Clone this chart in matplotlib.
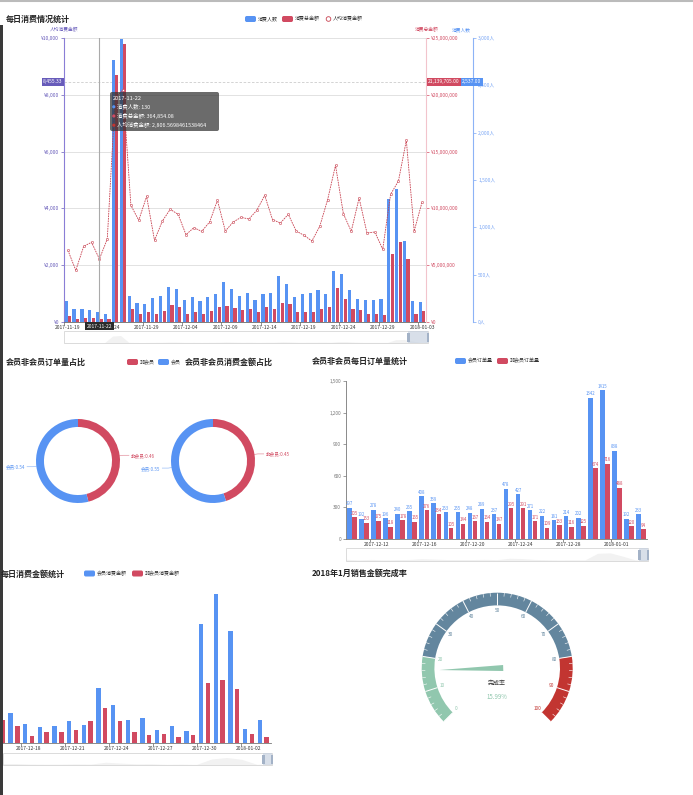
import numpy as np
import pandas as pd
import matplotlib
matplotlib.use("Agg")
import matplotlib.pyplot as plt
from matplotlib.patches import Rectangle, FancyBboxPatch, Wedge, Polygon, Circle
from matplotlib.ticker import FuncFormatter
from matplotlib.transforms import blended_transform_factory

# ---------------- data ----------------
# 每日消费情况统计 (2017-11-19 .. 2018-01-03)
DATES1 = pd.date_range("2017-11-19", periods=46).strftime("%Y-%m-%d").tolist()
PEOPLE = [222, 134, 134, 130, 106, 81, 2764, 2990, 271, 201, 187, 254, 271, 370, 349, 232,
          264, 222, 264, 296, 419, 349, 275, 310, 229, 299, 310, 482, 405, 261, 292, 310,
          342, 299, 539, 511, 342, 246, 236, 236, 246, 1303, 1405, 856, 225, 215]
TOTAL = [528000, 264000, 352000, 364854, 264000, 264000, 21770000, 24440000, 1144000, 704000,
         880000, 733000, 968000, 1470000, 1320000, 704000, 880000, 704000, 968000, 1320000,
         1380000, 1230000, 1030000, 1115000, 910000, 1350000, 1115000, 1700000, 1555000, 850000,
         850000, 850000, 1115000, 1290000, 2990000, 2000000, 1115000, 1030000, 730000, 730000,
         616000, 5960000, 7040000, 5520000, 730000, 940000]
AVG = [2523, 1819, 2664, 2807, 2218, 2923, 7876, 8174, 4108, 3580, 4425, 2876, 3556, 3967, 3791,
       3075, 3322, 3192, 3521, 4284, 3204, 3521, 3685, 3627, 3932, 4460, 3603, 3486, 3791, 3204,
       3052, 2852, 3369, 4307, 5516, 3815, 3192, 4366, 3134, 3169, 2559, 4495, 4965, 6397, 3204,
       4225]

# tooltip / axis pointer shown in the screenshot
POINTER_IDX = 4
TIP_DATE = "2017-11-22"
TIP_PEOPLE = 130
TIP_TOTAL = 364854.08
TIP_AVG = 2806.5698461538464
PTR_AVG = 8455.33
PTR_AVG_LABEL = "8,455.33"
PTR_TOTAL_LABEL = "21,139,705.00"
PTR_PEOPLE_LABEL = "2,537.00"

# 会员非会员占比
SHARE_LABELS = ["非会员", "会员"]
ORDER_SHARE = [0.46, 0.54]
AMOUNT_SHARE = [0.45, 0.55]

# 会员非会员每日订单量 / 消费金额 (2017-12-10 .. 2018-01-03)
DATES2 = pd.date_range("2017-12-10", periods=25).strftime("%Y-%m-%d").tolist()
MEMBER_ORDERS = [297, 192, 278, 196, 240, 265, 408, 339, 253, 255, 248, 289, 237, 478, 427,
                 271, 222, 181, 214, 202, 1342, 1415, 838, 192, 233]
NONMEMBER_ORDERS = [205, 153, 175, 118, 178, 165, 276, 234, 105, 144, 167, 164, 147, 295, 291,
                    171, 109, 133, 116, 125, 674, 716, 488, 120, 94]
MEMBER_AMOUNT = [740000, 620000, 670000, 545000, 810000, 670000, 956000, 988000, 610000, 522000,
                 555000, 721000, 588000, 1830000, 1254000, 755000, 810000, 422000, 555000, 377000,
                 3963000, 4950000, 3730000, 455000, 755000]
NONMEMBER_AMOUNT = [490000, 410000, 445000, 365000, 540000, 445000, 744000, 566000, 233000, 355000,
                    344000, 422000, 710000, 1165000, 721000, 355000, 266000, 300000, 200000, 266000,
                    1987000, 2087000, 1787000, 289000, 189000]

# 2018年1月销售金额完成率
GAUGE_VALUE = 15.99
GAUGE_BANDS = [(0.2, "#91c7ae"), (0.8, "#63869e"), (1.0, "#c23531")]

BLUE = "#5793f3"
RED = "#d14a61"
LINE_RED = "#c8404f"
PURPLE = "#675bba"

plt.rcParams['font.family'] = ['Noto Sans CJK SC', 'DejaVu Sans']
plt.rcParams['axes.unicode_minus'] = False

W, H = 693, 795
fig = plt.figure(figsize=(W / 100, H / 100), dpi=100, facecolor="white")


def px_axes(left, top, width, height):
    return fig.add_axes([left / W, 1 - (top + height) / H, width / W, height / H])


def date_axis(ax, labels, start, step):
    idx = np.arange(start, len(labels), step)
    ax.set_xticks(idx)
    ax.set_xticklabels([labels[i] for i in idx])
    ax.set_xticks(idx - 0.5, minor=True)
    ax.tick_params(axis="x", which="major", length=0, labelsize=3.5, labelcolor="#333", pad=2.5)
    ax.tick_params(axis="x", which="minor", length=2, width=0.5, color="#666")


# ---------------- chart 1: 每日消费情况统计 ----------------
n1 = len(DATES1)
x1 = np.arange(n1)
ax_avg = px_axes(64, 38, 362, 284)
ax_avg.set_xlim(-0.5, n1 - 0.5)
ax_avg.set_ylim(0, 10000)
ax_avg.set_yticks(np.arange(0, 10001, 2000))
ax_avg.yaxis.set_major_formatter(FuncFormatter(lambda v, p: f"¥{v:,.0f}"))
ax_avg.tick_params(axis="y", colors=PURPLE, labelsize=3.6, length=2, width=0.5, pad=1.5)
ax_avg.grid(axis="y", color="#dddddd", lw=0.6)
ax_avg.axhline(PTR_AVG, color="#cccccc", lw=0.6, ls=(0, (3, 2)))
for s in ["top", "right"]:
    ax_avg.spines[s].set_visible(False)
ax_avg.spines["left"].set_color("#8a7ed6")
ax_avg.spines["left"].set_linewidth(0.8)
ax_avg.spines["bottom"].set_color("#666")
ax_avg.spines["bottom"].set_linewidth(0.6)
date_axis(ax_avg, DATES1, 0, 5)

ax_blue = ax_avg.twinx()
ax_blue.set_ylim(0, 3000)
ax_blue.bar(x1 - 0.22, PEOPLE, width=0.4, color=BLUE)
ax_blue.set_yticks(np.arange(0, 3001, 500))
ax_blue.yaxis.set_major_formatter(FuncFormatter(lambda v, p: f"{v:,.0f}人"))
ax_blue.tick_params(axis="y", colors="#7aa6f5", labelsize=3.5, length=2, width=0.5, pad=1.5)
for s in ["top", "left", "bottom"]:
    ax_blue.spines[s].set_visible(False)
ax_blue.spines["right"].set_position(("outward", 34))
ax_blue.spines["right"].set_color("#8db3f6")
ax_blue.spines["right"].set_linewidth(0.8)

ax_red = ax_avg.twinx()
ax_red.set_ylim(0, 25000000)
ax_red.bar(x1 + 0.22, TOTAL, width=0.4, color=RED)
ax_red.set_yticks(np.arange(0, 25000001, 5000000))
ax_red.yaxis.set_major_formatter(FuncFormatter(lambda v, p: f"¥{v:,.0f}"))
ax_red.tick_params(axis="y", colors=RED, labelsize=3.5, length=2, width=0.5, pad=1.5)
for s in ["top", "left", "bottom"]:
    ax_red.spines[s].set_visible(False)
ax_red.spines["right"].set_color("#f2c4cc")
ax_red.spines["right"].set_linewidth(0.8)

ax_line = ax_avg.twinx()
ax_line.set_ylim(0, 10000)
ax_line.axis("off")
ax_line.plot(x1, AVG, color=LINE_RED, lw=0.6, ls=(0, (2, 1)), marker="o", ms=1.6,
             mfc="white", mec=LINE_RED, mew=0.4)
ax_line.axvline(POINTER_IDX, color="#aaaaaa", lw=0.8)
xb = blended_transform_factory(ax_line.transData, ax_line.transAxes)
ax_line.text(POINTER_IDX, -0.006, TIP_DATE, transform=xb, ha="center", va="top", fontsize=3.6,
             color="white", bbox=dict(boxstyle="square,pad=0.35", fc="#2b2b2b", ec="none"),
             clip_on=False, zorder=10)
yb = blended_transform_factory(ax_line.transAxes, ax_avg.transData)
ax_line.text(-0.004, PTR_AVG, PTR_AVG_LABEL, transform=yb, ha="right", va="center", fontsize=3.6,
             color="white", bbox=dict(boxstyle="square,pad=0.3", fc=PURPLE, ec="none"),
             clip_on=False, zorder=10)
ax_line.text(1 + 36 / 362, PTR_AVG, PTR_PEOPLE_LABEL, transform=yb, ha="left", va="center",
             fontsize=3.6, color="white", bbox=dict(boxstyle="square,pad=0.3", fc=BLUE, ec="none"),
             clip_on=False, zorder=10)
ax_line.text(1.006, PTR_AVG, PTR_TOTAL_LABEL, transform=yb, ha="left", va="center", fontsize=3.6,
             color="white", bbox=dict(boxstyle="square,pad=0.3", fc=RED, ec="none"),
             clip_on=False, zorder=11)

ax_s1 = px_axes(64, 331, 364, 12)
ax_s1.fill_between(np.arange(n1), PEOPLE, color="#f2f2f2", lw=0)
ax_s1.set_xlim(0, n1 - 1)
ax_s1.set_ylim(0, max(PEOPLE) * 1.6)
ax_s1.axis("off")

# ---------------- chart 2: donuts ----------------
def donut(left, top, shares):
    ax = px_axes(left, top, 84, 84)
    wedges, _ = ax.pie(shares, colors=[RED, BLUE], startangle=90, counterclock=False,
                       wedgeprops=dict(width=0.19, edgecolor="none"))
    ax.set_xlim(-1, 1)
    ax.set_ylim(-1, 1)
    ax.set_aspect("equal")
    for w, name, val, col in zip(wedges, SHARE_LABELS, shares, [RED, BLUE]):
        a = np.deg2rad((w.theta1 + w.theta2) / 2)
        c, s = np.cos(a), np.sin(a)
        sgn = 1 if c >= 0 else -1
        p0 = (1.0 * c, 1.0 * s)
        p1 = (1.08 * c, 1.08 * s)
        p2 = (p1[0] + sgn * 0.14, p1[1])
        ax.plot([p0[0], p1[0], p2[0]], [p0[1], p1[1], p2[1]], color=col, lw=0.5, clip_on=False,
                alpha=0.6)
        ax.text(p2[0] + sgn * 0.05, p2[1], f"{name}:{val:.2f}", color=col, fontsize=3.3,
                ha="left" if sgn > 0 else "right", va="center", clip_on=False)


donut(36, 419, ORDER_SHARE)
donut(171, 419, AMOUNT_SHARE)

# ---------------- chart 3: 会员非会员每日订单量统计 ----------------
n2 = len(DATES2)
x2 = np.arange(n2)
ax2 = px_axes(346, 381, 301, 158)
ax2.set_xlim(-0.5, n2 - 0.5)
ax2.set_ylim(0, 1500)
b = ax2.bar(x2 - 0.21, MEMBER_ORDERS, 0.38, color=BLUE)
ax2.bar_label(b, fontsize=3.1, color=BLUE, padding=1)
r = ax2.bar(x2 + 0.21, NONMEMBER_ORDERS, 0.38, color=RED)
ax2.bar_label(r, fontsize=3.1, color=RED, padding=1)
ax2.set_yticks(np.arange(0, 1501, 300))
ax2.yaxis.set_major_formatter(FuncFormatter(lambda v, p: f"{v:,.0f}"))
ax2.tick_params(axis="y", labelsize=3.4, colors="#777", length=2, width=0.5, pad=1.5)
for s in ["top", "right"]:
    ax2.spines[s].set_visible(False)
for s in ["left", "bottom"]:
    ax2.spines[s].set_color("#777")
    ax2.spines[s].set_linewidth(0.6)
date_axis(ax2, DATES2, 2, 4)

ax_s2 = px_axes(346, 548, 302, 13)
ax_s2.fill_between(x2, MEMBER_ORDERS, color="#f2f2f2", lw=0)
ax_s2.set_xlim(0, n2 - 1)
ax_s2.set_ylim(0, max(MEMBER_ORDERS) * 1.6)
ax_s2.axis("off")

# ---------------- chart 4: 每日消费金额统计 (left part scrolled out of view) ----------------
n3 = len(DATES2)
x3 = np.arange(n3)
ax3 = px_axes(-96, 592.5, 366.5, 150.2)
ax3.set_xlim(-0.5, n3 - 0.5)
ax3.set_ylim(0, 5000000)
ax3.bar(x3 - 0.23, MEMBER_AMOUNT, 0.3, color=BLUE)
ax3.bar(x3 + 0.23, NONMEMBER_AMOUNT, 0.3, color=RED)
ax3.set_yticks([])
for s in ["top", "right", "left"]:
    ax3.spines[s].set_visible(False)
ax3.spines["bottom"].set_color("#777")
ax3.spines["bottom"].set_linewidth(0.6)
date_axis(ax3, DATES2, 8, 3)

ax_s3 = px_axes(0, 753, 272, 12)
ax_s3.fill_between(x3[6:], MEMBER_AMOUNT[6:], color="#f2f2f2", lw=0)
ax_s3.set_xlim(6, n3 - 1)
ax_s3.set_ylim(0, max(MEMBER_AMOUNT) * 1.6)
ax_s3.axis("off")

# ---------------- chart 5: gauge ----------------
GX, GY = 497.2, 668.2
R_OUT, RING = 75.5, 12.7
ax_g = px_axes(GX - 80, GY - 80, 160, 160)
ax_g.set_xlim(-80, 80)
ax_g.set_ylim(-80, 80)
ax_g.set_aspect("equal")
ax_g.axis("off")


def val2ang(v):
    return 225 - 270 * v / 100


def band_color(v):
    for stop, col in GAUGE_BANDS:
        if v <= stop * 100 + 1e-9:
            return col
    return GAUGE_BANDS[-1][1]


prev = 0.0
for stop, col in GAUGE_BANDS:
    ax_g.add_patch(Wedge((0, 0), R_OUT, val2ang(stop * 100), val2ang(prev * 100), width=RING,
                         fc=col, ec="none"))
    prev = stop
for v in np.arange(0, 101, 2):
    a = np.deg2rad(val2ang(v))
    if v % 10 == 0:
        r0, lw = R_OUT - RING, 0.7
    else:
        r0, lw = R_OUT - RING * 0.28, 0.4
    ax_g.plot([r0 * np.cos(a), R_OUT * np.cos(a)], [r0 * np.sin(a), R_OUT * np.sin(a)],
              color="white", lw=lw, solid_capstyle="butt")
for v in range(0, 101, 10):
    a = np.deg2rad(val2ang(v))
    ax_g.text(57.5 * np.cos(a), 57.5 * np.sin(a), str(v), fontsize=3.4, color=band_color(v),
              ha="center", va="center")
pa = np.deg2rad(val2ang(GAUGE_VALUE))
d = np.array([np.cos(pa), np.sin(pa)])
nrm = np.array([-d[1], d[0]])
ax_g.add_patch(Polygon([58 * d, -6 * d + 3 * nrm, -6 * d - 3 * nrm], closed=True,
                       fc=band_color(GAUGE_VALUE), ec="none"))
ax_g.text(0, -14.5, "完成率", fontsize=4.3, color="#333", ha="center", va="center")
ax_g.text(0, -29, f"{GAUGE_VALUE:.2f}%", fontsize=4.4, color=band_color(GAUGE_VALUE),
          ha="center", va="center")

# ---------------- overlay: titles, legends, sliders, tooltip ----------------
ov = fig.add_axes([0, 0, 1, 1])
ov.set_xlim(0, W)
ov.set_ylim(H, 0)
ov.axis("off")

ov.plot([0, W], [0.6, 0.6], color="#bbbbbb", lw=1.5)
ov.add_patch(Rectangle((0, 25), 2.5, H - 25, fc="#3a3a3a", ec="none"))

TITLE_KW = dict(fontsize=5.8, weight="bold", color="#222", va="center", ha="left")
ov.text(6, 19, "每日消费情况统计", **TITLE_KW)
ov.text(6, 362, "会员非会员订单量占比", **TITLE_KW)
ov.text(185, 362, "会员非会员消费金额占比", **TITLE_KW)
ov.text(312, 361, "会员非会员每日订单量统计", **TITLE_KW)
ov.text(0.5, 574, "每日消费金额统计", **TITLE_KW)
ov.text(312, 573, "2018年1月销售金额完成率", **TITLE_KW)


def legend_rect(x, y, color, label):
    ov.add_patch(FancyBboxPatch((x, y - 3), 11, 6, boxstyle="round,pad=0,rounding_size=1.8",
                                fc=color, ec="none"))
    ov.text(x + 13, y, label, fontsize=3.6, color="#333", va="center", ha="left")


legend_rect(245, 19, BLUE, "消费人数")
legend_rect(282, 19, RED, "消费总金额")
ov.add_patch(Circle((328.5, 19), 2.3, fc="white", ec=LINE_RED, lw=0.6))
ov.text(333, 19, "人均消费金额", fontsize=3.6, color="#333", va="center", ha="left")
legend_rect(127, 362, RED, "非会员")
legend_rect(158, 362, BLUE, "会员")
legend_rect(455, 361, BLUE, "会员订单量")
legend_rect(497, 361, RED, "非会员订单量")
legend_rect(84, 573.5, BLUE, "会员消费金额")
legend_rect(132, 573.5, RED, "非会员消费金额")

# axis names of chart 1
ov.text(64, 30, "人均消费金额", fontsize=3.4, color=PURPLE, ha="center", va="center")
ov.text(427, 30, "消费总金额", fontsize=3.4, color=RED, ha="center", va="center")
ov.text(461, 30, "消费人数", fontsize=3.4, color=BLUE, ha="center", va="center")


def slider(x0, y0, x1_, y1_, hx):
    ov.add_patch(Rectangle((x0, y0), x1_ - x0, y1_ - y0, fc="none", ec="#d6d6d6", lw=0.6))
    ov.add_patch(Rectangle((hx, y0), x1_ - hx, y1_ - y0, fc="#c8d2e0", ec="none", alpha=0.7))
    for hxx in (hx - 1, x1_ - 1.5):
        ov.add_patch(Rectangle((hxx, y0 + 1.5), 2.5, y1_ - y0 - 3, fc="#a3b2c7", ec="none"))


slider(64, 331, 428, 343, 408)
slider(346, 548, 648, 561, 639)
slider(3, 753, 272, 765, 263)

# tooltip
ov.add_patch(FancyBboxPatch((110, 92), 109, 39, boxstyle="round,pad=0,rounding_size=2",
                            fc="#323232", ec="none", alpha=0.72))
ov.text(112.5, 98.3, TIP_DATE, fontsize=4.1, color="white", va="center", ha="left")
tip_rows = [(BLUE, f"消费人数: {TIP_PEOPLE}"),
            (RED, f"消费总金额: {TIP_TOTAL:,.2f}"),
            ("#c23531", f"人均消费金额: {TIP_AVG:,}")]
for i, (col, txt) in enumerate(tip_rows):
    yy = 106.8 + i * 9.2
    ov.add_patch(Circle((113.8, yy), 1.6, fc=col, ec="none"))
    ov.text(117, yy, txt, fontsize=3.9, color="white", va="center", ha="left")

fig.savefig("out.png", dpi=100, facecolor="white")
